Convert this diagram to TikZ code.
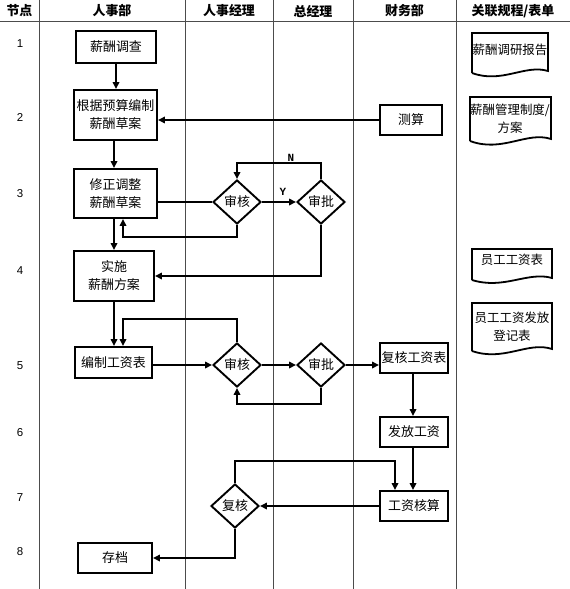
\documentclass[tikz,border=0pt]{standalone}
\usepackage{fontspec}
\setmainfont{Noto Sans CJK SC}
\newfontfamily\numfont{Liberation Sans}
\newfontfamily\ynfont{Liberation Mono}
\usetikzlibrary{shapes.geometric,arrows.meta}
\tikzset{
  proc/.style={draw, line width=1.9bp, rectangle, inner sep=0pt, align=center,
    font=\fontsize{13}{18}\selectfont},
  dia/.style={draw, diamond, line width=1.9bp, inner sep=0pt, minimum width=48bp,
    minimum height=44bp, font=\fontsize{13}{15}\selectfont},
  flow/.style={line width=1.6bp, -{Triangle[length=7bp,width=6.5bp]}},
  plain/.style={line width=1.6bp},
  grid/.style={line width=0.9bp, black!70},
  head/.style={font=\fontsize{13}{15}\selectfont\bfseries},
  rownum/.style={font=\numfont\fontsize{11.5}{13}\selectfont},
  yn/.style={font=\ynfont\bfseries\fontsize{11}{12}\selectfont, inner sep=1bp},
  docbox/.style={line width=1.8bp},
  doctext/.style={align=center, inner sep=0pt, font=\fontsize{12.5}{18}\selectfont}
}
\begin{document}
\begin{tikzpicture}[x=1bp,y=-1bp]
\useasboundingbox (0,0) rectangle (570,589);
% grid
\draw[grid] (0,21) -- (570,21);
\foreach \xx in {39,185,273,353,456} \draw[grid] (\xx,0) -- (\xx,589);
% header
\node[head] (h0) at (19.5,11) {节点};
\node[head] (h1) at (112,11) {人事部};
\node[head] (h2) at (229,11) {人事经理};
\node[head] (h3) at (313,11) {总经理};
\node[head] (h4) at (404.5,11) {财务部};
\node[head] (h5) at (513,11) {关联规程/表单};
% row numbers
\node[rownum] (r1) at (20,44) {1};
\node[rownum] (r2) at (20,118) {2};
\node[rownum] (r3) at (20,194) {3};
\node[rownum] (r4) at (20,271) {4};
\node[rownum] (r5) at (20,366) {5};
\node[rownum] (r6) at (20,433) {6};
\node[rownum] (r7) at (20,498) {7};
\node[rownum] (r8) at (20,552) {8};
% process nodes
\node[proc, minimum width=80bp, minimum height=32bp] (a1) at (116,47) {薪酬调查};
\node[proc, minimum width=83bp, minimum height=50bp] (a2) at (115.5,115) {根据预算编制\\薪酬草案};
\node[proc, minimum width=62bp, minimum height=30bp] (f1) at (411,120) {测算};
\node[proc, minimum width=83bp, minimum height=49bp] (a3) at (115.5,193.5) {修正调整\\薪酬草案};
\node[dia] (m1) at (237,202) {审核};
\node[dia] (g1) at (321,202) {审批};
\node[proc, minimum width=80bp, minimum height=50bp] (a4) at (114,276) {实施\\薪酬方案};
\node[proc, minimum width=77bp, minimum height=31bp] (a5) at (113.5,362.5) {编制工资表};
\node[dia] (m2) at (237,365) {审核};
\node[dia] (g2) at (321,365) {审批};
\node[proc, minimum width=68bp, minimum height=30bp] (f2) at (414,358) {复核工资表};
\node[proc, minimum width=68bp, minimum height=30bp] (f3) at (414,432) {发放工资};
\node[proc, minimum width=68bp, minimum height=30bp] (f4) at (414,506) {工资核算};
\node[dia] (m3) at (235,506) {复核};
\node[proc, minimum width=74bp, minimum height=30bp] (a6) at (115,558) {存档};
% labels
\node[yn] (ylab) at (283,192) {Y};
\node[yn] (nlab) at (291,158) {N};
% connectors
\draw[flow] (a1.south) -- (a1.south |- a2.north);
\draw[flow] (f1.west) -- (f1.west -| a2.east);
\draw[flow] ([xshift=-1.5bp]a2.south) -- ([xshift=-1.5bp]a2.south |- a3.north);
\draw[plain] (m1.west -| a3.east) -- (m1.west);
\draw[flow] (m1.east) -- (g1.west);
\draw[flow] (g1.north) -- ++(0,-16) -| (m1.north);
\draw[flow] (m1.south) -- ++(0,12) -| ([xshift=7.5bp]a3.south);
\draw[flow] ([xshift=-1.5bp]a3.south) -- ([xshift=-1.5bp]a3.south |- a4.north);
\draw[flow] (g1.south) |- (a4.east);
\draw[flow] (a4.south) -- (a4.south |- a5.north);
\draw[flow] (m2.north) -- ++(0,-23) -| ([xshift=9.5bp]a5.north);
\draw[flow] (a5.east |- m2.west) -- (m2.west);
\draw[flow] (m2.east) -- (g2.west);
\draw[flow] (g2.east) -- (g2.east -| f2.west);
\draw[flow] (g2.south) -- ++(0,16) -| (m2.south);
\draw[flow] ([xshift=-1bp]f2.south) -- ([xshift=-1bp]f3.north);
\draw[flow] ([xshift=-1bp]f3.south) -- ([xshift=-1bp]f4.north);
\draw[flow] (f4.west) -- (f4.west -| m3.east);
\draw[flow] (m3.north) -- ++(0,-22) -| ([xshift=-19bp]f4.north);
\draw[flow] (m3.south) |- (a6.east);
% documents
\draw[docbox] (472,73) -- (472,33) -- (548,33) -- (548,71)
  .. controls (525,64) and (502,84) .. (472,73);
\node[doctext] (d1) at (510,50) {薪酬调研报告};
\draw[docbox] (470,141) -- (470,97) -- (551,97) -- (551,139)
  .. controls (527,131) and (502,153) .. (470,141);
\node[doctext] (d2) at (510,119) {薪酬管理制度/\\方案};
\draw[docbox] (472,280) -- (472,249) -- (552,249) -- (552,278)
  .. controls (528,271) and (504,290) .. (472,280);
\node[doctext] (d3) at (512,260) {员工工资表};
\draw[docbox] (472,351) -- (472,303) -- (552,303) -- (552,349)
  .. controls (528,341) and (504,362) .. (472,351);
\node[doctext] (d4) at (512,327) {员工工资发放\\登记表};
\end{tikzpicture}
\end{document}
